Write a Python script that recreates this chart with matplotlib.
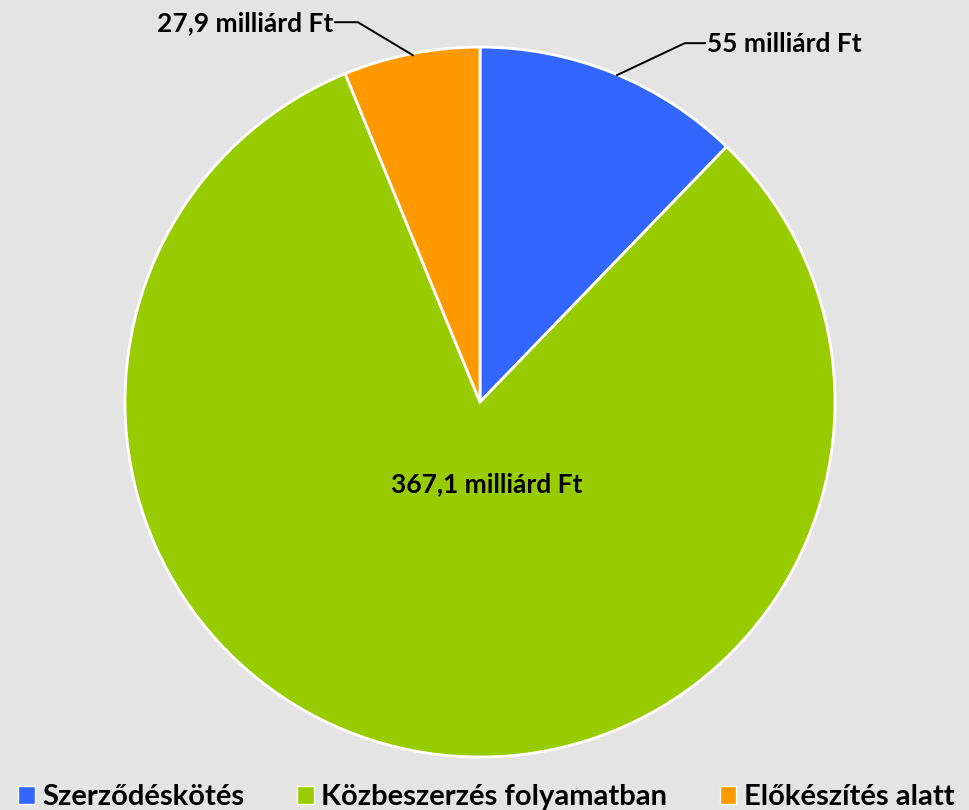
import matplotlib.pyplot as plt
from matplotlib.patches import Patch

kategoriak = ["Szerződéskötés", "Közbeszerzés folyamatban", "Előkészítés alatt"]
ertekek = [55, 367.1, 27.9]
cimkek = ["55 milliárd Ft", "367,1 milliárd Ft", "27,9 milliárd Ft"]
szinek = ["#3366ff", "#99cc00", "#ff9900"]

plt.rcParams['font.family'] = ['Lato', 'DejaVu Sans']
hatter = "#e4e4e4"

fig = plt.figure(figsize=(9.69, 8.10), dpi=100, facecolor=hatter)
ax = fig.add_axes([0.129, 0.0654, 0.7327, 0.8765])
ax.set_facecolor(hatter)

ax.pie(ertekek, colors=szinek, startangle=90, counterclock=False, radius=1,
       wedgeprops=dict(edgecolor="white", linewidth=2))
ax.set_xlim(-1, 1)
ax.set_ylim(-1, 1)
ax.set_aspect("auto")
ax.axis("off")

# kozepso felirat
ax.text(0.02, -0.23, cimkek[1], ha="center", va="center", fontsize=19,
        fontweight="bold", color="black")

# 55 milliard - vezetovonal
ax.plot([0.386, 0.577, 0.634], [0.921, 1.011, 1.011], color="black", lw=1.4, clip_on=False)
ax.text(0.64, 1.008, cimkek[0], ha="left", va="center", fontsize=19,
        fontweight="bold", clip_on=False)

# 27,9 milliard - vezetovonal
ax.plot([-0.189, -0.344, -0.408], [0.977, 1.070, 1.070], color="black", lw=1.4, clip_on=False)
ax.text(-0.414, 1.067, cimkek[2], ha="right", va="center", fontsize=19,
        fontweight="bold", clip_on=False)

kezelok = [Patch(facecolor=c, edgecolor="white", linewidth=1) for c in szinek]
fig.legend(kezelok, kategoriak, loc="lower left", ncol=3, frameon=False,
           bbox_to_anchor=(0.0186, 0.0), borderaxespad=0, borderpad=0,
           prop=dict(weight="bold", size=21),
           handlelength=0.58, handleheight=0.58, handletextpad=0.25, columnspacing=1.8)

fig.savefig("out.png", dpi=100, facecolor=hatter)
